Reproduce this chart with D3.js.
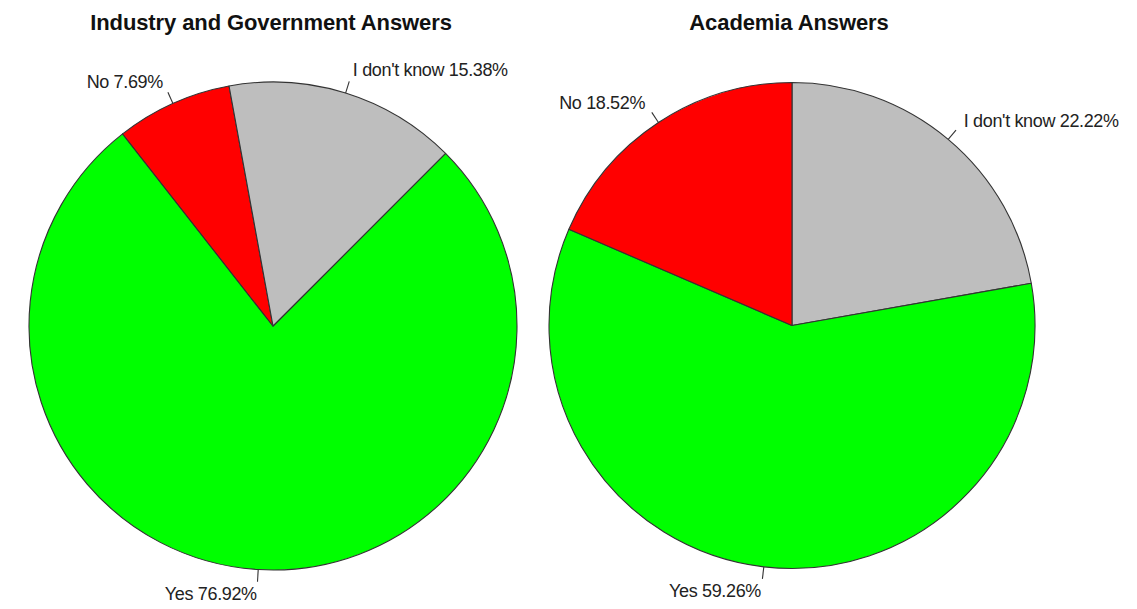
<!DOCTYPE html>
<html>
<head>
<meta charset="utf-8">
<script src="https://cdn.jsdelivr.net/npm/d3@7"></script>
<style>
  html, body { margin: 0; padding: 0; background: #fff; }
  svg { display: block; }
  text { font-family: "Liberation Sans", Arial, sans-serif; fill: #222; }
</style>
</head>
<body>
<svg id="chart" width="1137" height="609"></svg>
<script>
// Survey answers, in percent
const categories = ["Yes", "No", "I don't know"];
const industryValues = [76.92, 7.69, 15.38];
const academiaValues = [59.26, 18.52, 22.22];
const titles = ["Industry and Government Answers", "Academia Answers"];
const sliceColors = ["#00ff00", "#ff0000", "#bebebe"];

const svg = d3.select("#chart");
const color = d3.scaleOrdinal().domain(categories).range(sliceColors);

const deg = Math.PI / 180;

// Each panel: values, clockwise order of slices, starting angle
const panels = [
  { title: titles[0], values: industryValues, order: [0, 1, 2], start: 45 * deg,
    cx: 273, cy: 326, r: 244, titleX: 271 },
  { title: titles[1], values: academiaValues, order: [2, 0, 1], start: 0,
    cx: 792, cy: 325.5, r: 243, titleX: 789 }
];

panels.forEach(p => {
  const data = p.order.map(i => ({ label: categories[i], value: p.values[i] }));
  const pie = d3.pie().sort(null).value(d => d.value)
    .startAngle(p.start).endAngle(p.start + 2 * Math.PI);
  const arcs = pie(data);
  const arc = d3.arc().innerRadius(0).outerRadius(p.r);

  const g = svg.append("g").attr("transform", `translate(${p.cx},${p.cy})`);

  g.selectAll("path.slice")
    .data(arcs)
    .join("path")
    .attr("class", "slice")
    .attr("d", arc)
    .attr("fill", d => color(d.data.label))
    .attr("stroke", "#333")
    .attr("stroke-width", 1.1)
    .attr("stroke-linejoin", "round");

  // label ticks and text, placed on the bisector of each slice
  const fs = 18;
  arcs.forEach(d => {
    const mid = (d.startAngle + d.endAngle) / 2;
    const sx = Math.sin(mid), sy = -Math.cos(mid);
    g.append("line")
      .attr("x1", sx * p.r).attr("y1", sy * p.r)
      .attr("x2", sx * p.r * 1.05).attr("y2", sy * p.r * 1.05)
      .attr("stroke", "#333").attr("stroke-width", 1.1);
    g.append("text")
      .attr("x", sx * p.r * 1.1)
      .attr("y", sy * p.r * 1.1 + fs * 0.36)
      .attr("text-anchor", sx >= 0 ? "start" : "end")
      .attr("font-size", fs)
      .attr("letter-spacing", -0.35)
      .text(`${d.data.label} ${d.data.value.toFixed(2)}%`);
  });

  svg.append("text")
    .attr("x", p.titleX)
    .attr("y", 30)
    .attr("text-anchor", "middle")
    .attr("font-size", 22)
    .attr("font-weight", "bold")
    .attr("letter-spacing", -0.1)
    .style("fill", "#111")
    .text(p.title);
});
</script>
</body>
</html>
